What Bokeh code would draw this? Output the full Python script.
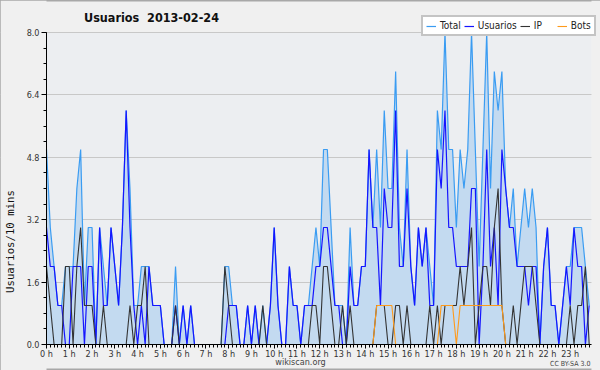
import math
from bokeh.plotting import figure
from bokeh.models import Range1d, FixedTicker, Label, Legend, LegendItem, PrintfTickFormatter, BoxAnnotation
from bokeh.embed import file_html
from bokeh.resources import INLINE

# 10-minute slots, 0h00 .. 23h50
slots = list(range(144))
hour_labels = [f"{h} h" for h in range(24)]
y_ticks = [0.0, 1.6, 3.2, 4.8, 6.4, 8.0]

usuarios = [3, 2, 2, 1, 1, 0, 0, 2, 2, 2,
            0, 2, 2, 0, 3, 1, 1, 3, 2, 1,
            3, 6, 3, 1, 0, 1, 0, 2, 1, 1,
            1, 0, 0, 0, 1, 0, 1, 0, 1, 0,
            0, 0, 0, 0, 0, 0, 0, 0, 1, 1,
            1, 0, 0, 1, 0, 1, 0, 0, 0, 1,
            3, 1, 0, 0, 2, 1, 1, 0, 1, 1,
            1, 2, 2, 3, 3, 2, 1, 1, 0, 0,
            2, 1, 1, 2, 2, 5, 3, 3, 1, 4,
            3, 3, 6, 2, 2, 4, 2, 1, 3, 2,
            3, 1, 1, 5, 4, 6, 3, 3, 2, 2,
            2, 2, 4, 4, 0, 2, 5, 2, 3, 1,
            5, 4, 3, 3, 2, 2, 2, 1, 2, 2,
            0, 2, 3, 1, 1, 0, 1, 2, 1, 3,
            2, 2, 0, 1]

ip = [2, 1, 0, 0, 0, 2, 2, 0, 2, 3,
      1, 1, 1, 0, 0, 1, 0, 0, 0, 0,
      0, 0, 1, 0, 1, 1, 2, 0, 0, 0,
      0, 0, 0, 0, 1, 0, 0, 0, 0, 0,
      0, 0, 0, 0, 0, 0, 0, 2, 1, 0,
      0, 0, 0, 0, 0, 0, 0, 1, 0, 0,
      0, 0, 0, 0, 0, 0, 0, 0, 0, 0,
      1, 1, 0, 2, 2, 1, 0, 0, 1, 0,
      1, 0, 0, 0, 0, 0, 0, 1, 1, 1,
      0, 0, 1, 1, 0, 1, 0, 0, 0, 0,
      0, 1, 0, 1, 0, 1, 1, 1, 1, 2,
      1, 2, 3, 0, 1, 2, 2, 1, 3, 4,
      1, 0, 0, 1, 0, 1, 2, 2, 2, 1,
      0, 0, 0, 0, 0, 0, 0, 0, 1, 0,
      1, 1, 2, 0]

bots = [0] * 87 + [1, 1, 1, 1, 1] + [0] * 12 + [1, 1, 1, 1, 0] + [1] * 12 + [0] * 23

total = [u + i + b for u, i, b in zip(usuarios, ip, bots)]

C_TOTAL = "#3a9cf2"
C_FILL = "#c3daf0"
C_USU = "#1515ff"
C_IP = "#333333"
C_BOTS = "#ff9a1a"
BG = "#f0f0f0"
PLOT_BG = "#eceef1"

W, H = 600, 370
FL, FB = 46, 344           # pixel position of the data origin
SX = 3.795                 # px per 10-minute slot
SY = 39.0                  # px per user
X_END = 143.6
Y_END = 8.0

p = figure(width=W, height=H, output_backend="svg", toolbar_location=None,
           title=None,
           x_range=Range1d(-FL / SX, (W - FL) / SX),
           y_range=Range1d(-(H - FB) / SY, FB / SY),
           min_border_left=0, min_border_right=0, min_border_top=0, min_border_bottom=0,
           background_fill_color=BG, border_fill_color=BG,
           outline_line_color="#a8a8a8", outline_line_width=2)

p.add_layout(BoxAnnotation(left=0, right=X_END, bottom=0, top=Y_END,
                           fill_color=PLOT_BG, fill_alpha=1.0, line_color=None, level="image"))

p.varea(x=slots, y1=[0] * len(slots), y2=total, fill_color=C_FILL, fill_alpha=1.0)
r_total = p.line(slots, total, line_color=C_TOTAL, line_width=1.2)
r_usu = p.line(slots, usuarios, line_color=C_USU, line_width=1.2)
r_ip = p.line(slots, ip, line_color=C_IP, line_width=1.1)
r_bots = p.line(slots, bots, line_color=C_BOTS, line_width=1.1)

# grid
p.xgrid.visible = False
p.ygrid.grid_line_color = "#c8c8c8"
p.ygrid.ticker = FixedTicker(ticks=y_ticks)
# hide grid outside the data area
p.add_layout(BoxAnnotation(right=0, fill_color=BG, fill_alpha=1.0, line_color=None, level="underlay"))
p.add_layout(BoxAnnotation(left=X_END, fill_color=BG, fill_alpha=1.0, line_color=None, level="underlay"))

FONT = "DejaVu Sans Condensed"

yax = p.yaxis[0]
yax.fixed_location = 0
yax.bounds = (0, Y_END)
yax.ticker = FixedTicker(ticks=y_ticks, minor_ticks=[round(0.4 * k, 1) for k in range(21)])
yax.formatter = PrintfTickFormatter(format="%.1f")
yax.major_label_text_font_size = "9px"
yax.major_label_text_color = "#333333"
yax.major_label_text_font = FONT
yax.major_tick_out = 5
yax.major_tick_in = 0
yax.minor_tick_out = 3
yax.minor_tick_in = 0
yax.major_label_standoff = 2
yax.axis_line_color = "black"

xax = p.xaxis[0]
xax.fixed_location = 0
xax.bounds = (0, X_END)
xax.ticker = FixedTicker(ticks=[6 * h for h in range(24)],
                         minor_ticks=[s for s in slots if s % 6 != 0])
xax.major_label_overrides = {6 * h: hour_labels[h] for h in range(24)}
xax.major_label_text_font_size = "9px"
xax.major_label_text_color = "#333333"
xax.major_label_text_font = FONT
xax.major_tick_out = 4
xax.major_tick_in = 0
xax.minor_tick_out = 3
xax.minor_tick_in = 0
xax.major_label_standoff = 0
xax.axis_line_color = "black"

# texts (screen units measured from the bottom-left corner)
p.add_layout(Label(x=151, y=H - 17, x_units="screen", y_units="screen",
                   text="Usuarios\u00a0\u00a02013-02-24", text_font=FONT,
                   text_font_style="bold", text_font_size="12.5px",
                   text_align="center", text_baseline="middle", text_color="#111111"))
p.add_layout(Label(x=10, y=H - 241, x_units="screen", y_units="screen",
                   text="Usuarios/10 mins", text_font="DejaVu Sans Mono",
                   text_font_size="10.7px", angle=math.pi / 2,
                   text_align="center", text_baseline="middle", text_color="#111111"))
p.add_layout(Label(x=300, y=H - 361, x_units="screen", y_units="screen",
                   text="wikiscan.org", text_font=FONT,
                   text_font_size="9px", text_align="center", text_baseline="middle",
                   text_color="#444444"))
p.add_layout(Label(x=590, y=H - 363, x_units="screen", y_units="screen",
                   text="CC BY-SA 3.0", text_font=FONT,
                   text_font_size="7px", text_align="right", text_baseline="middle",
                   text_color="#444444"))

legend = Legend(items=[LegendItem(label="Total", renderers=[r_total]),
                       LegendItem(label="Usuarios", renderers=[r_usu]),
                       LegendItem(label="IP", renderers=[r_ip]),
                       LegendItem(label="Bots", renderers=[r_bots])],
                orientation="horizontal", location=(421, H - 36),
                background_fill_color="white", background_fill_alpha=1.0,
                border_line_color="#8a8a8a", border_line_width=2,
                label_text_font=FONT, label_text_font_size="10px",
                label_text_color="#222222",
                glyph_width=10, glyph_height=10, label_standoff=4,
                spacing=3, padding=3, margin=0, label_height=11)
p.add_layout(legend)

open("out.html", "w").write(file_html(p, INLINE))
